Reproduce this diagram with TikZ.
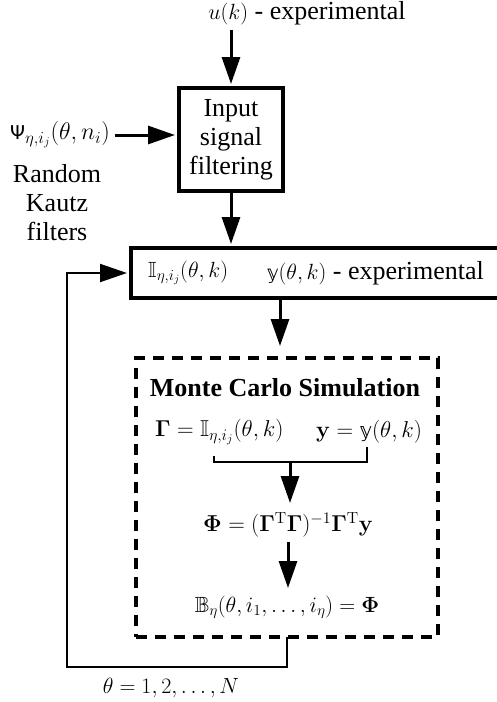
\documentclass[tikz,border=0pt]{standalone}
\usepackage{fix-cm}
\usepackage{amssymb}
\usepackage[no-math]{fontspec}
\setmainfont{Liberation Serif}
\newfontfamily\dvfont{DejaVu Sans}
\usetikzlibrary{arrows.meta}
\newcommand{\dsI}{\mathbb{I}}
\newcommand{\dsY}{\mbox{\dvfont\fontsize{19}{22}\selectfont 𝕪}}
\newcommand{\dsYb}{\mbox{\dvfont\fontsize{20}{24}\selectfont 𝕪}}
\newcommand{\dsB}{\mathbb{B}}
\newcommand{\dsPsi}{\mbox{\dvfont\fontsize{19}{22}\selectfont Ψ}}
\newcommand{\mm}[1]{{\fontsize{22}{26}\selectfont$#1$}}
\newcommand{\mmb}[1]{{\fontsize{24}{28}\selectfont$#1$}}
\newcommand{\mmc}[1]{{\fontsize{23}{27}\selectfont$#1$}}
\begin{document}
\begin{tikzpicture}[x=1pt,y=-1pt,
  font=\fontsize{26}{29}\selectfont,
  arr/.style={line width=3pt,-{Triangle[length=27pt,width=18pt]}},
  farr/.style={line width=2pt,-{Triangle[length=27pt,width=18pt]}},
  thinline/.style={line width=2pt},
  boxthick/.style={draw,line width=4pt,inner sep=0pt},
  mcbox/.style={draw,line width=4pt,dash pattern=on 11pt off 8pt,inner sep=0pt},
  lbl/.style={inner sep=0pt}]
\useasboundingbox (0,0) rectangle (496,702);

% top label
\node[lbl] (ulabel) at (307,13) {\mm{u(k)} - experimental};
\coordinate (utop) at (231,30);

% input filtering box
\node[boxthick,minimum width=104pt,minimum height=103pt,align=center] (filt) at (231,139.5) {Input\\signal\\filtering};

% psi label
\node[lbl] (psi) at (60,135) {\mmb{\dsPsi_{\eta,i_j}(\theta,n_i)}};
\node[lbl,align=center] (kautz) at (57,203) {Random\\Kautz\\filters};
\coordinate (psiend) at (115,135);

% data box
\node[boxthick,minimum width=372pt,minimum height=50pt] (data) at (317,273) {};
\node[lbl,anchor=west] (ivar) at (148,273) {\mm{\dsI_{\eta,i_j}(\theta,k)}};
\node[lbl,anchor=east] (yvar) at (484,273) {\mm{\dsY(\theta,k)} - experimental};

% Monte Carlo box
\node[mcbox,minimum width=302pt,minimum height=279pt] (mc) at (287,497.5) {};
\node[lbl,font=\fontsize{26}{29}\selectfont\bfseries] (mctitle) at (285,388) {Monte Carlo Simulation};
\node[lbl,anchor=west] (gam) at (155,432) {\mmc{\mathbf{\Gamma}=\dsI_{\eta,i_j}(\theta,k)}};
\node[lbl,anchor=west] (yeq) at (316,432) {\mmc{\mathbf{y}=\dsYb(\theta,k)}};
\node[lbl] (phi) at (288,525) {{\fontsize{23}{27}\selectfont$\mathbf{\Phi}=(\mathbf{\Gamma}^{\mathrm{T}}\mathbf{\Gamma})^{-1}\mathbf{\Gamma}^{\mathrm{T}}\mathbf{y}$}};
\node[lbl] (beq) at (287,607) {\mm{\dsB_{\eta}(\theta,i_1,\ldots,i_\eta)=\mathbf{\Phi}}};

\node[lbl] (theta) at (171,688) {\mm{\theta=1,2,\ldots,N}};

% bracket coordinates
\coordinate (bl) at (214,456);
\coordinate (br) at (367,447);
\coordinate (bbot) at (214,462);
\coordinate (bbotr) at (367,462);
\coordinate (bmid) at (290,462);
\coordinate (fbstart) at (287,637);
\coordinate (fbcorner) at (67,667);
\coordinate (phiarr) at (288,542);

% connectors
\draw[arr,shorten >=2pt] (utop) -- (filt.north);
\draw[arr,shorten >=2pt] (psiend) -- (psiend -| filt.west);
\draw[arr,shorten >=2pt] (filt.south) -- (filt.south |- data.north);
\draw[arr,shorten >=10pt] ([xshift=-37pt]data.south) -- ([xshift=-37pt]data.south |- mc.north);
\draw[thinline] (bl) -- (bbot) -- (bbotr) -- (br);
\draw[arr] (bmid) -- ++(0,41);
\draw[arr] (phiarr) -- ++(0,46);
\draw[farr,shorten >=2pt] (fbstart) |- (fbcorner) |- (data.west);
\end{tikzpicture}
\end{document}
